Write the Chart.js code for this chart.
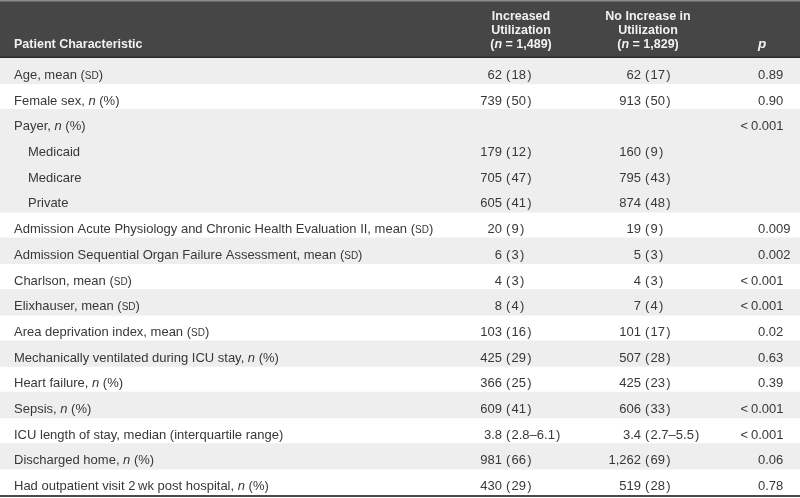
<!DOCTYPE html>
<html>
<head>
<meta charset="utf-8">
<script src="https://cdn.jsdelivr.net/npm/chart.js@4.4.1/dist/chart.umd.min.js"></script>
<style>
    html, body { margin: 0; padding: 0; background: #ffffff; }
    #wrap { width: 800px; height: 498px; }
</style>
</head>
<body>
<div id="wrap"><canvas id="tableChart" width="800" height="498"></canvas></div>
<script>
/* Patient characteristics table, drawn on a Chart.js category axis */
// _x_ = italic, {x} = small caps
const rowLabels = [
    "Age, mean ({sd})",
    "Female sex, _n_ (%)",
    "Payer, _n_ (%)",
    "Medicaid",
    "Medicare",
    "Private",
    "Admission Acute Physiology and Chronic Health Evaluation II, mean ({sd})",
    "Admission Sequential Organ Failure Assessment, mean ({sd})",
    "Charlson, mean ({sd})",
    "Elixhauser, mean ({sd})",
    "Area deprivation index, mean ({sd})",
    "Mechanically ventilated during ICU stay, _n_ (%)",
    "Heart failure, _n_ (%)",
    "Sepsis, _n_ (%)",
    "ICU length of stay, median (interquartile range)",
    "Discharged home, _n_ (%)",
    "Had outpatient visit 2\u2009wk post hospital, _n_ (%)"
];
const subRows = [3, 4, 5];
const increased = ["62 (18)", "739 (50)", "", "179 (12)", "705 (47)", "605 (41)", "20 (9)", "6 (3)", "4 (3)", "8 (4)",
    "103 (16)", "425 (29)", "366 (25)", "609 (41)", "3.8 (2.8\u20136.1)", "981 (66)", "430 (29)"];
const noIncrease = ["62 (17)", "913 (50)", "", "160 (9)", "795 (43)", "874 (48)", "19 (9)", "5 (3)", "4 (3)", "7 (4)",
    "101 (17)", "507 (28)", "425 (23)", "606 (33)", "3.4 (2.7\u20135.5)", "1,262 (69)", "519 (28)"];
const pValues = ["0.89", "0.90", "< 0.001", "", "", "", "0.009", "0.002", "< 0.001", "< 0.001",
    "0.02", "0.63", "0.39", "< 0.001", "< 0.001", "0.06", "0.78"];
const shadedRows = [1, 0, 1, 1, 1, 1, 0, 1, 0, 1, 0, 1, 0, 1, 0, 1, 0];
const firstHead = "Patient Characteristic";
const columnHeads = [
    ["Increased", "Utilization", "(_n_ = 1,489)"],
    ["No Increase in", "Utilization", "(_n_ = 1,829)"]
];
const pHead = "_p_";

const FONT = "'Liberation Sans', Arial, sans-serif";
const BODY = 13;
const HEAD = 12.5;

function parseRich(text) {
    const parts = [];
    const re = /_([^_]+)_|\{([^}]+)\}|([^_{]+)/g;
    let m;
    while ((m = re.exec(text)) !== null) {
        if (m[1]) parts.push({ t: m[1], style: "italic" });
        else if (m[2]) parts.push({ t: m[2].toUpperCase(), style: "caps" });
        else parts.push({ t: m[3], style: "normal" });
    }
    return parts;
}

function partFont(p, size, bold) {
    const w = bold ? "bold " : "";
    if (p.style === "italic") return "italic " + w + size + "px " + FONT;
    if (p.style === "caps") return w + Math.round(size * 0.74) + "px " + FONT;
    return w + size + "px " + FONT;
}

function drawRich(ctx, text, x, y, size, bold, align) {
    const parts = parseRich(text);
    let total = 0;
    parts.forEach(function (p) {
        ctx.font = partFont(p, size, bold);
        p.w = ctx.measureText(p.t).width;
        total += p.w;
    });
    let cx = x;
    if (align === "center") cx = x - total / 2;
    if (align === "right") cx = x - total;
    ctx.textAlign = "left";
    parts.forEach(function (p) {
        ctx.font = partFont(p, size, bold);
        ctx.fillText(p.t, cx, y);
        cx += p.w;
    });
}

// numbers aligned on the opening parenthesis
function drawParen(ctx, value, parenX, y) {
    if (!value) return;
    const i = value.indexOf(" (");
    const inner = value.slice(i + 2, value.length - 1);
    ctx.font = BODY + "px " + FONT;
    ctx.textAlign = "right";
    ctx.fillText(value.slice(0, i), parenX - 3, y);
    ctx.textAlign = "left";
    let cx = parenX + 1;
    ctx.fillText("(", cx, y);
    cx += ctx.measureText("(").width + 1.2;
    ctx.fillText(inner, cx, y);
    cx += ctx.measureText(inner).width + 1.2;
    ctx.fillText(")", cx, y);
}

function drawP(ctx, value, leftX, rightX, y) {
    if (!value) return;
    ctx.font = BODY + "px " + FONT;
    if (value.indexOf("<") === 0) {
        const num = value.replace("< ", "");
        const w = ctx.measureText(num).width;
        ctx.textAlign = "right";
        ctx.fillText(num, rightX, y);
        ctx.fillText("<", rightX - w - 3, y);
    } else {
        ctx.textAlign = "left";
        ctx.fillText(value, leftX, y);
    }
}

const tablePlugin = {
    id: "tableText",
    beforeDatasetsDraw(chart) {
        const ctx = chart.ctx;
        const area = chart.chartArea;
        ctx.save();
        ctx.fillStyle = "#464646";
        ctx.fillRect(0, 0, chart.width, area.top);
        ctx.fillStyle = "#8c8c8c";
        ctx.fillRect(0, 0, chart.width, 1.5);
        ctx.fillStyle = "#2b2b2b";
        ctx.fillRect(0, area.top - 1.5, chart.width, 1.5);
        ctx.restore();
    },
    afterDatasetsDraw(chart) {
        const ctx = chart.ctx;
        const area = chart.chartArea;
        const x = chart.scales.x;
        const y = chart.scales.y;
        ctx.save();

        // header
        ctx.fillStyle = "#f2f2f2";
        ctx.textBaseline = "alphabetic";
        drawRich(ctx, firstHead, x.getPixelForValue(14), 48, HEAD, true, "left");
        const headCenters = [521, 648];
        columnHeads.forEach(function (lines, c) {
            lines.forEach(function (line, k) {
                drawRich(ctx, line, x.getPixelForValue(headCenters[c]), 20 + k * 14, HEAD, true, "center");
            });
        });
        drawRich(ctx, pHead, x.getPixelForValue(762), 48, HEAD + 1, true, "center");

        // body rows
        ctx.fillStyle = "#383838";
        rowLabels.forEach(function (label, i) {
            const py = y.getPixelForValue(i) + 8;
            const lx = subRows.indexOf(i) >= 0 ? 28 : 14;
            drawRich(ctx, label, x.getPixelForValue(lx), py, BODY, false, "left");
            drawParen(ctx, increased[i], x.getPixelForValue(505), py);
            drawParen(ctx, noIncrease[i], x.getPixelForValue(644), py);
            drawP(ctx, pValues[i], x.getPixelForValue(758), x.getPixelForValue(783.5), py);
        });

        // bottom rule
        ctx.fillStyle = "#4a4a4a";
        ctx.fillRect(0, area.bottom, chart.width, 2);
        ctx.restore();
    }
};

const ctx = document.getElementById("tableChart");
new Chart(ctx, {
    type: "bar",
    data: {
        labels: rowLabels,
        datasets: [{
            data: shadedRows.map(function (s) { return s ? [0, 800] : null; }),
            backgroundColor: "#eeeeee",
            borderWidth: 0,
            barPercentage: 1,
            categoryPercentage: 1
        }]
    },
    options: {
        indexAxis: "y",
        responsive: false,
        animation: false,
        events: [],
        layout: {
            padding: { top: 58, bottom: 3, left: 0, right: 0 }
        },
        plugins: {
            legend: { display: false },
            tooltip: { enabled: false }
        },
        scales: {
            x: { type: "linear", min: 0, max: 800, display: false },
            y: { type: "category", display: false, grid: { display: false } }
        }
    },
    plugins: [tablePlugin]
});
</script>
</body>
</html>
